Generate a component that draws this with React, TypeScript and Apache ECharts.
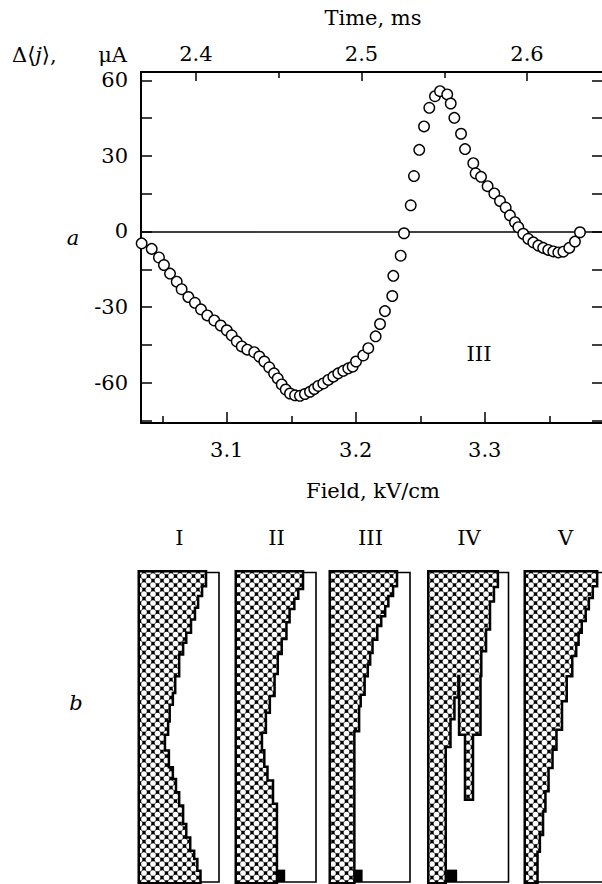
import React, { useEffect, useRef } from 'react';
import * as echarts from 'echarts';

// ---------------- panel a: data ----------------
const fieldKV = [
  3.034, 3.0418, 3.0474, 3.0513, 3.056, 3.0612, 3.065, 3.0702, 3.0753, 3.08,
  3.0849, 3.0903, 3.0953, 3.1, 3.1038, 3.1077, 3.1116, 3.1159, 3.1213, 3.1252,
  3.1291, 3.1329, 3.1366, 3.1395, 3.1426, 3.1457, 3.149, 3.1529, 3.1567, 3.1606,
  3.1645, 3.1678, 3.1709, 3.1748, 3.1787, 3.1826, 3.1864, 3.1903, 3.1942, 3.1976,
  3.2002, 3.2058, 3.2097, 3.2154, 3.2188, 3.2226, 3.2283, 3.2291, 3.2348, 3.2374,
  3.2426, 3.2451, 3.2492, 3.2529, 3.257, 3.2614, 3.2653, 3.2709, 3.2736, 3.2764,
  3.2816, 3.2847, 3.2911, 3.2929, 3.2971, 3.3022, 3.3074, 3.3118, 3.3162, 3.3195,
  3.3234, 3.326, 3.3298, 3.3337, 3.3376, 3.3415, 3.3453, 3.3492, 3.3531, 3.357,
  3.3609, 3.3655, 3.3699, 3.3738,
];
const currentUA = [
  -4.7, -6.9, -10.3, -13.3, -16.7, -19.9, -22.9, -26, -28.3, -30.9,
  -33.3, -35.3, -37.3, -39.2, -41.2, -43.6, -45.6, -46.9, -47.9, -49.6,
  -51.6, -53.9, -56.3, -58.3, -60.7, -62.7, -64.3, -65, -65.2, -64.5,
  -63.6, -62.5, -61.3, -60.3, -58.9, -57.6, -56.3, -55.3, -54.3, -53.6,
  -51.6, -49.2, -46.3, -41.6, -36.7, -31.6, -25.6, -17.6, -9.6, -0.7,
  10.4, 22, 32.4, 41.7, 49.1, 53.7, 55.7, 54.4, 50.8, 45.1,
  38.8, 32.7, 27.1, 23.1, 21.7, 18, 15.1, 12.1, 9.5, 6.4,
  3.7, 1.7, -0.9, -2.9, -4.3, -5.6, -6.5, -7.3, -7.9, -8.3,
  -8, -6.5, -4, -0.3,
];
const fieldMajorTicks = [3.1, 3.2, 3.3];
const fieldMinorTicks = [3.05, 3.15, 3.25, 3.35];
const timeMajorTicks = [2.4, 2.5, 2.6];
const timeMinorTicks = [2.45, 2.55];
const currentTicks = [-75, -60, -45, -30, -15, 0, 15, 30, 45, 60];
const currentLabels = [-60, -30, 0, 30, 60];
const fieldRange = [3.0335, 3.3932];
const timeRange = [2.3668, 2.6471];
const currentRange = [-76, 63.3];

// ---------------- panel b: data ----------------
const boxNames = ['I', 'II', 'III', 'IV', 'V'];
// [depth at step end (fraction of box height), hatched width (fraction of box width)]
const profileI = [[0.04, 0.82], [0.072, 0.77], [0.11, 0.72], [0.148, 0.68], [0.191, 0.63], [0.223, 0.57], [0.261, 0.53], [0.331, 0.48], [0.385, 0.43], [0.423, 0.40], [0.477, 0.36], [0.52, 0.34], [0.579, 0.30], [0.633, 0.35], [0.671, 0.40], [0.714, 0.44], [0.757, 0.48], [0.817, 0.53], [0.86, 0.57], [0.903, 0.62], [0.93, 0.67], [0.968, 0.71], [1, 0.75]];
const profileII = [[0.049, 0.82], [0.081, 0.76], [0.114, 0.71], [0.157, 0.65], [0.211, 0.61], [0.259, 0.55], [0.324, 0.50], [0.395, 0.46], [0.449, 0.40], [0.514, 0.35], [0.578, 0.30], [0.632, 0.33], [0.676, 0.37], [0.751, 0.44], [1, 0.49]];
const profileIII = [[0.04, 0.82], [0.072, 0.77], [0.105, 0.71], [0.137, 0.67], [0.169, 0.62], [0.213, 0.57], [0.256, 0.51], [0.293, 0.48], [0.331, 0.45], [0.391, 0.41], [0.428, 0.36], [0.509, 0.34], [1, 0.28]];
const profileIV = [[0.043, 0.85], [0.09, 0.80], [0.18, 0.75], [0.25, 0.70], [0.33, 0.64], [0.40, 0.35], [0.47, 0.30], [0.56, 0.25], [1, 0.19]];
const profileV = [[0.04, 0.885], [0.078, 0.83], [0.115, 0.78], [0.153, 0.74], [0.191, 0.69], [0.229, 0.65], [0.266, 0.62], [0.331, 0.57], [0.412, 0.50], [0.504, 0.44], [0.569, 0.37], [0.628, 0.32], [0.703, 0.27], [0.768, 0.23], [0.844, 0.20], [0.898, 0.16], [1, 0.13]];
// [depth start, depth end, x start, x end]
const branchIV = [0.33, 0.52, 0.39, 0.63];
const threadIV = [0.52, 0.73, 0.465, 0.535];
const blockII = [0.96, 1, 0.49, 0.61];
const blockIII = [0.96, 1, 0.28, 0.40];
const blockIV = [0.96, 1, 0.20, 0.35];

// ---------------- layout / style ----------------
const FONT = '"DejaVu Serif", "Liberation Serif", serif';
const FS = 21;
const BLACK = '#000';
const boxLeft = [140, 237, 331, 429.5, 526];
const boxTop = 572.5;
const boxW = 79;
const boxH = 309.5;

type Region = { k: 'h' | 'b'; rows: number[][] };

const stairRows = (p: number[][]) => p.map((s, i) => [i ? p[i - 1][0] : 0, s[0], 0, s[1]]);

const boxRegions: Region[][] = [
  [{ k: 'h', rows: stairRows(profileI) }],
  [{ k: 'h', rows: stairRows(profileII) }, { k: 'b', rows: [blockII] }],
  [{ k: 'h', rows: stairRows(profileIII) }, { k: 'b', rows: [blockIII] }],
  [
    { k: 'h', rows: stairRows(profileIV) },
    { k: 'h', rows: [branchIV] },
    { k: 'h', rows: [threadIV] },
    { k: 'b', rows: [blockIV] },
  ],
  [{ k: 'h', rows: stairRows(profileV) }],
];

function polyPoints(rows: number[][], api: any) {
  const pts: number[][] = [];
  rows.forEach(([d0, d1, , x1]) => {
    pts.push(api.coord([x1, d0]), api.coord([x1, d1]));
  });
  for (let k = rows.length - 1; k >= 0; k--) {
    const [d0, d1, x0] = rows[k];
    pts.push(api.coord([x0, d1]), api.coord([x0, d0]));
  }
  return pts;
}

function buildOption() {
  const T = 9;
  const r = 2.85;
  const c = (x: number, y: number) => `<circle cx="${x}" cy="${y}" r="${r}" fill="#fff"/>`;
  const hatchSvg =
    `<svg xmlns="http://www.w3.org/2000/svg" width="${T}" height="${T}">` +
    `<rect width="${T}" height="${T}" fill="#000"/>` +
    c(0, 0) + c(T, 0) + c(0, T) + c(T, T) + c(T / 2, T / 2) +
    '</svg>';
  const hatch = {
    image: 'data:image/svg+xml;charset=utf-8,' + encodeURIComponent(hatchSvg),
    repeat: 'repeat',
    imageWidth: T,
    imageHeight: T,
  };

  const labelStyle = { color: BLACK, fontFamily: FONT, fontSize: FS };
  const fmt1 = (v: number) => Number(v).toFixed(1);

  const grids: any[] = [
    { left: 141, top: 72, width: 464, height: 351, outerBoundsMode: 'none', containLabel: false, show: false },
  ];
  const xAxes: any[] = [
    {
      type: 'value', gridIndex: 0, position: 'bottom', min: fieldRange[0], max: fieldRange[1],
      axisLine: { show: true, onZero: false, lineStyle: { color: BLACK, width: 2 } },
      axisTick: { show: true, inside: true, length: 11, customValues: fieldMajorTicks, lineStyle: { color: BLACK, width: 1.5 } },
      axisLabel: { show: true, customValues: fieldMajorTicks, formatter: fmt1, margin: 16, ...labelStyle },
      splitLine: { show: false },
      name: 'Field, kV/cm', nameLocation: 'middle', nameGap: 57, nameTextStyle: { ...labelStyle },
    },
    {
      type: 'value', gridIndex: 0, position: 'bottom', min: fieldRange[0], max: fieldRange[1],
      axisLine: { show: false, onZero: false },
      axisTick: { show: true, inside: true, length: 7, customValues: fieldMinorTicks, lineStyle: { color: BLACK, width: 1.5 } },
      axisLabel: { show: false }, splitLine: { show: false },
    },
    {
      type: 'value', gridIndex: 0, position: 'top', min: timeRange[0], max: timeRange[1],
      axisLine: { show: true, onZero: false, lineStyle: { color: BLACK, width: 2 } },
      axisTick: { show: true, inside: true, length: 9, customValues: timeMajorTicks, lineStyle: { color: BLACK, width: 1.5 } },
      axisLabel: { show: true, customValues: timeMajorTicks, formatter: fmt1, margin: 8, ...labelStyle },
      splitLine: { show: false },
      name: 'Time, ms', nameLocation: 'middle', nameGap: 44, nameTextStyle: { ...labelStyle },
    },
    {
      type: 'value', gridIndex: 0, position: 'top', min: timeRange[0], max: timeRange[1],
      axisLine: { show: false, onZero: false },
      axisTick: { show: true, inside: true, length: 6, customValues: timeMinorTicks, lineStyle: { color: BLACK, width: 1.5 } },
      axisLabel: { show: false }, splitLine: { show: false },
    },
    {
      type: 'value', gridIndex: 0, position: 'bottom', min: fieldRange[0], max: fieldRange[1],
      axisLine: { show: true, onZero: true, onZeroAxisIndex: 0, lineStyle: { color: BLACK, width: 1.6 } },
      axisTick: { show: false }, axisLabel: { show: false }, splitLine: { show: false },
    },
  ];
  const yAxes: any[] = [
    {
      type: 'value', gridIndex: 0, position: 'left', min: currentRange[0], max: currentRange[1],
      axisLine: { show: true, onZero: false, lineStyle: { color: BLACK, width: 2 } },
      axisTick: { show: true, inside: true, length: 11, customValues: currentTicks, lineStyle: { color: BLACK, width: 1.5 } },
      axisLabel: { show: true, customValues: currentLabels, margin: 13, ...labelStyle },
      splitLine: { show: false },
    },
    {
      type: 'value', gridIndex: 0, position: 'right', min: currentRange[0], max: currentRange[1],
      axisLine: { show: true, onZero: false, lineStyle: { color: BLACK, width: 2 } },
      axisTick: { show: true, inside: true, length: 13, customValues: currentTicks, lineStyle: { color: BLACK, width: 1.5 } },
      axisLabel: { show: false }, splitLine: { show: false },
    },
  ];

  const series: any[] = [
    {
      type: 'scatter', xAxisIndex: 0, yAxisIndex: 0, silent: true, z: 3,
      data: fieldKV.map((x, i) => [x, currentUA[i]]),
      symbol: 'circle', symbolSize: 10.5,
      itemStyle: { color: '#fff', borderColor: BLACK, borderWidth: 1.4, opacity: 1 },
    },
  ];

  boxRegions.forEach((regions, b) => {
    grids.push({
      left: boxLeft[b], top: boxTop, width: boxW, height: boxH,
      outerBoundsMode: 'none', containLabel: false,
      show: true, borderColor: BLACK, borderWidth: 1.6, backgroundColor: 'transparent',
    });
    xAxes.push({ type: 'value', gridIndex: b + 1, min: 0, max: 1, show: false, axisLine: { onZero: false } });
    yAxes.push({ type: 'value', gridIndex: b + 1, min: 0, max: 1, inverse: true, show: false, axisLine: { onZero: false } });
    const data = regions.map(() => [0.5, 0.5]);
    series.push({
      type: 'custom', coordinateSystem: 'cartesian2d', xAxisIndex: 5 + b, yAxisIndex: 2 + b,
      silent: true, z: 4, data,
      renderItem: (params: any, api: any) => {
        const reg = regions[params.dataIndex];
        if (reg.k === 'b') {
          const [d0, d1, x0, x1] = reg.rows[0];
          const p0 = api.coord([x0, d0]);
          const p1 = api.coord([x1, d1]);
          return {
            type: 'rect',
            shape: { x: p0[0], y: p0[1], width: p1[0] - p0[0], height: p1[1] - p0[1] },
            style: { fill: BLACK },
          };
        }
        return {
          type: 'polygon',
          shape: { points: polyPoints(reg.rows, api) },
          style: { fill: BLACK, stroke: BLACK, lineWidth: 5, lineJoin: 'miter' },
        };
      },
    });
    series.push({
      type: 'custom', coordinateSystem: 'cartesian2d', xAxisIndex: 5 + b, yAxisIndex: 2 + b,
      silent: true, z: 5, data,
      renderItem: (params: any, api: any) => {
        const reg = regions[params.dataIndex];
        if (reg.k === 'b') return { type: 'group', children: [] };
        return {
          type: 'polygon',
          shape: { points: polyPoints(reg.rows, api) },
          style: { fill: hatch, stroke: null },
        };
      },
    });
  });

  const txt = (text: string, x: number, y: number, align: string, italic = false, size = FS) => ({
    type: 'text', x, y, silent: true,
    style: {
      text, fill: BLACK, align, verticalAlign: 'middle',
      font: `${italic ? 'italic ' : ''}${size}px ${FONT}`,
    },
  });

  const graphic: any[] = [
    {
      type: 'text', x: 12, y: 55, silent: true,
      style: {
        text: '{n|Δ⟨}{i|j}{n|⟩,}', fill: BLACK, align: 'left', verticalAlign: 'middle',
        rich: {
          n: { fontFamily: FONT, fontSize: FS, color: BLACK },
          i: { fontFamily: FONT, fontSize: FS, fontStyle: 'italic', color: BLACK },
        },
      },
    },
    txt('μA', 127, 55, 'right'),
    txt('a', 73, 238, 'center', true),
    txt('b', 76, 703, 'center', true),
    txt('III', 479, 354, 'center'),
    ...boxNames.map((n, i) => txt(n, boxLeft[i] + boxW / 2, 538, 'center')),
  ];

  return {
    animation: false,
    backgroundColor: '#fff',
    textStyle: { fontFamily: FONT },
    grid: grids,
    xAxis: xAxes,
    yAxis: yAxes,
    series,
    graphic,
  };
}

export default function App() {
  const ref = useRef<HTMLDivElement>(null);
  useEffect(() => {
    if (!ref.current) return;
    const chart = echarts.init(ref.current, null, { renderer: 'svg' });
    chart.setOption(buildOption() as any);
    return () => chart.dispose();
  }, []);
  return (
    <div
      ref={ref}
      style={{ position: 'absolute', left: 0, top: 0, width: 602, height: 884, background: '#fff' }}
    />
  );
}
